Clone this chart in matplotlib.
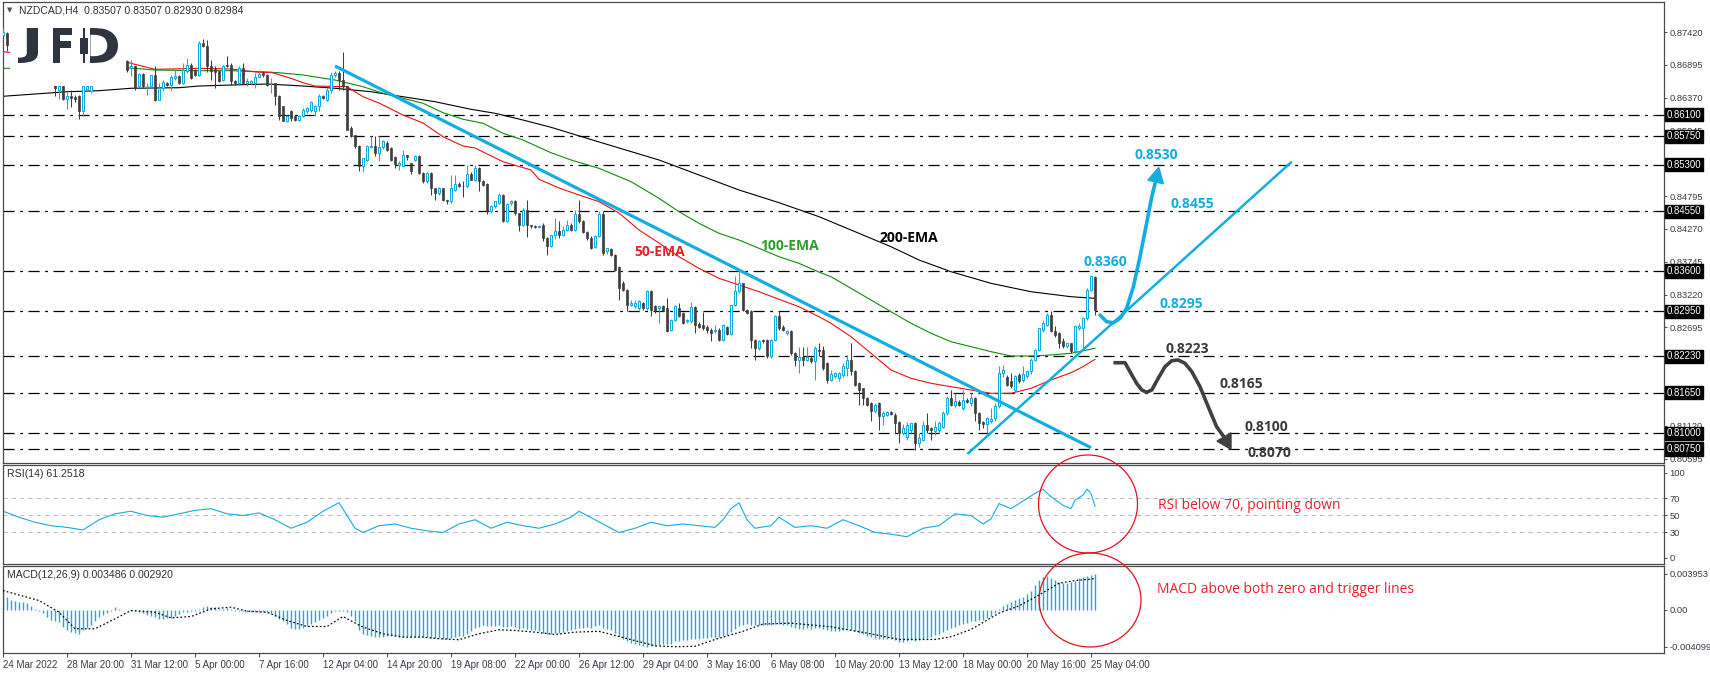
import numpy as np
import matplotlib
matplotlib.use("Agg")
import matplotlib.pyplot as plt
from matplotlib.patches import Ellipse, Polygon, Rectangle, PathPatch
from matplotlib.textpath import TextPath
from matplotlib.font_manager import FontProperties
from matplotlib.path import Path
import matplotlib.transforms as mtransforms

plt.rcParams['font.family'] = ['Liberation Sans', 'DejaVu Sans']
plt.rcParams['lines.scale_dashes'] = False

W, H, DPI = 1710, 674, 100

# ---------------- data ----------------
title_text = "NZDCAD,H4  0.83507 0.83507 0.82930 0.82984"
opens = [0.8738,0.8740,0.8721,0.8725,0.8719,0.8708,0.8712,0.8701,0.8692,0.8697,
         0.8684,0.8676,0.8670,0.8662,0.8650,0.8656,0.8635,0.8640,0.8638,0.8639,
         0.8615,0.8651,0.8648,0.8658,0.8665,0.8671,0.8677,0.8672,0.8683,0.8688,
         0.8682,0.8695,0.8684,0.8687,0.8655,0.8675,0.8655,0.8655,0.8673,0.8634,
         0.8652,0.8660,0.8657,0.8669,0.8672,0.8660,0.8679,0.8689,0.8681,0.8673,
         0.8724,0.8719,0.8688,0.8683,0.8679,0.8665,0.8689,0.8689,0.8664,0.8660,
         0.8685,0.8660,0.8660,0.8660,0.8670,0.8677,0.8673,0.8660,0.8660,0.8640,
         0.8623,0.8600,0.8616,0.8607,0.8601,0.8608,0.8615,0.8617,0.8615,0.8623,
         0.8640,0.8634,0.8650,0.8673,0.8677,0.8665,0.8655,0.8588,0.8577,0.8560,
         0.8528,0.8538,0.8558,0.8560,0.8549,0.8558,0.8564,0.8556,0.8542,0.8530,
         0.8528,0.8545,0.8532,0.8538,0.8544,0.8517,0.8503,0.8517,0.8492,0.8484,
         0.8492,0.8473,0.8471,0.8490,0.8499,0.8496,0.8495,0.8515,0.8506,0.8524,
         0.8504,0.8499,0.8455,0.8463,0.8469,0.8481,0.8440,0.8468,0.8472,0.8452,
         0.8433,0.8458,0.8433,0.8432,0.8430,0.8434,0.8413,0.8400,0.8417,0.8423,
         0.8418,0.8426,0.8433,0.8426,0.8451,0.8439,0.8422,0.8413,0.8398,0.8416,
         0.8451,0.8391,0.8395,0.8386,0.8366,0.8341,0.8329,0.8306,0.8303,0.8300,
         0.8308,0.8300,0.8327,0.8303,0.8300,0.8303,0.8300,0.8265,0.8282,0.8300,
         0.8292,0.8279,0.8279,0.8302,0.8275,0.8273,0.8270,0.8265,0.8263,0.8266,
         0.8249,0.8270,0.8259,0.8305,0.8327,0.8340,0.8297,0.8295,0.8250,0.8236,
         0.8249,0.8249,0.8223,0.8249,0.8287,0.8270,0.8260,0.8263,0.8228,0.8217,
         0.8222,0.8218,0.8220,0.8215,0.8234,0.8233,0.8212,0.8186,0.8192,0.8188,
         0.8194,0.8204,0.8218,0.8200,0.8180,0.8172,0.8156,0.8148,0.8135,0.8148,
         0.8127,0.8130,0.8134,0.8130,0.8118,0.8100,0.8095,0.8105,0.8116,0.8084,
         0.8090,0.8113,0.8108,0.8104,0.8105,0.8111,0.8132,0.8156,0.8145,0.8150,
         0.8140,0.8153,0.8148,0.8156,0.8132,0.8118,0.8115,0.8120,0.8124,0.8143,
         0.8196,0.8190,0.8183,0.8169,0.8193,0.8185,0.8191,0.8199,0.8217,0.8233,
         0.8265,0.8274,0.8289,0.8263,0.8260,0.8247,0.8239,0.8244,0.8231,0.8268,
         0.8268,0.8284,0.8330,0.8350]
highs = [0.8748,0.8742,0.8728,0.8730,0.8722,0.8715,0.8716,0.8705,0.8700,0.8699,
         0.8690,0.8682,0.8674,0.8666,0.8660,0.8660,0.8646,0.8649,0.8641,0.8641,
         0.8662,0.8665,0.8668,0.8668,0.8674,0.8680,0.8679,0.8685,0.8691,0.8690,
         0.8697,0.8697,0.8698,0.8688,0.8676,0.8676,0.8660,0.8674,0.8687,0.8660,
         0.8665,0.8662,0.8673,0.8681,0.8673,0.8692,0.8700,0.8693,0.8683,0.8727,
         0.8731,0.8729,0.8697,0.8687,0.8680,0.8690,0.8704,0.8692,0.8665,0.8688,
         0.8692,0.8668,0.8665,0.8676,0.8682,0.8680,0.8675,0.8668,0.8661,0.8641,
         0.8624,0.8609,0.8618,0.8609,0.8610,0.8620,0.8622,0.8632,0.8625,0.8643,
         0.8642,0.8652,0.8678,0.8680,0.8679,0.8710,0.8656,0.8592,0.8578,0.8562,
         0.8541,0.8561,0.8575,0.8575,0.8575,0.8570,0.8567,0.8558,0.8544,0.8535,
         0.8553,0.8546,0.8533,0.8545,0.8545,0.8518,0.8518,0.8518,0.8493,0.8494,
         0.8493,0.8474,0.8513,0.8513,0.8502,0.8504,0.8529,0.8518,0.8529,0.8526,
         0.8505,0.8500,0.8466,0.8472,0.8484,0.8483,0.8468,0.8474,0.8473,0.8453,
         0.8460,0.8474,0.8434,0.8433,0.8434,0.8436,0.8414,0.8418,0.8444,0.8439,
         0.8432,0.8441,0.8437,0.8457,0.8474,0.8441,0.8424,0.8415,0.8417,0.8455,
         0.8455,0.8397,0.8397,0.8387,0.8368,0.8343,0.8331,0.8313,0.8313,0.8313,
         0.8310,0.8329,0.8329,0.8305,0.8304,0.8306,0.8317,0.8283,0.8305,0.8308,
         0.8294,0.8283,0.8310,0.8304,0.8278,0.8294,0.8273,0.8268,0.8273,0.8268,
         0.8275,0.8272,0.8306,0.8351,0.8361,0.8341,0.8299,0.8298,0.8251,0.8250,
         0.8251,0.8251,0.8251,0.8290,0.8295,0.8273,0.8265,0.8265,0.8230,0.8238,
         0.8238,0.8238,0.8223,0.8239,0.8244,0.8239,0.8214,0.8201,0.8198,0.8198,
         0.8212,0.8225,0.8244,0.8201,0.8182,0.8173,0.8158,0.8150,0.8148,0.8150,
         0.8135,0.8135,0.8136,0.8132,0.8120,0.8115,0.8118,0.8116,0.8118,0.8100,
         0.8119,0.8132,0.8111,0.8119,0.8119,0.8135,0.8160,0.8169,0.8164,0.8153,
         0.8169,0.8156,0.8164,0.8158,0.8134,0.8120,0.8126,0.8141,0.8148,0.8207,
         0.8210,0.8193,0.8196,0.8194,0.8196,0.8207,0.8201,0.8220,0.8235,0.8269,
         0.8281,0.8292,0.8295,0.8271,0.8262,0.8252,0.8243,0.8245,0.8273,0.8276,
         0.8286,0.8333,0.8351,0.8351]
lows = [0.8735,0.8712,0.8712,0.8716,0.8705,0.8700,0.8698,0.8688,0.8686,0.8680,
        0.8672,0.8666,0.8660,0.8640,0.8635,0.8633,0.8619,0.8622,0.8630,0.8603,
        0.8607,0.8648,0.8645,0.8658,0.8661,0.8666,0.8668,0.8670,0.8678,0.8679,
        0.8680,0.8678,0.8671,0.8650,0.8653,0.8652,0.8641,0.8653,0.8631,0.8633,
        0.8648,0.8655,0.8649,0.8666,0.8659,0.8659,0.8676,0.8667,0.8671,0.8672,
        0.8718,0.8678,0.8665,0.8652,0.8662,0.8664,0.8686,0.8658,0.8658,0.8659,
        0.8659,0.8655,0.8658,0.8652,0.8668,0.8670,0.8656,0.8644,0.8625,0.8601,
        0.8599,0.8598,0.8600,0.8600,0.8599,0.8606,0.8612,0.8614,0.8608,0.8615,
        0.8635,0.8632,0.8645,0.8670,0.8649,0.8649,0.8585,0.8574,0.8557,0.8520,
        0.8518,0.8536,0.8556,0.8543,0.8536,0.8555,0.8552,0.8536,0.8524,0.8522,
        0.8527,0.8538,0.8515,0.8536,0.8515,0.8500,0.8500,0.8481,0.8474,0.8482,
        0.8472,0.8467,0.8469,0.8487,0.8494,0.8478,0.8493,0.8505,0.8504,0.8487,
        0.8496,0.8451,0.8453,0.8461,0.8467,0.8438,0.8438,0.8466,0.8450,0.8424,
        0.8431,0.8414,0.8429,0.8429,0.8428,0.8407,0.8385,0.8398,0.8411,0.8412,
        0.8415,0.8424,0.8424,0.8424,0.8437,0.8420,0.8410,0.8395,0.8396,0.8414,
        0.8386,0.8387,0.8384,0.8360,0.8313,0.8328,0.8295,0.8303,0.8300,0.8298,
        0.8298,0.8298,0.8287,0.8292,0.8276,0.8296,0.8262,0.8263,0.8280,0.8286,
        0.8275,0.8276,0.8277,0.8260,0.8268,0.8266,0.8260,0.8247,0.8260,0.8247,
        0.8247,0.8258,0.8257,0.8303,0.8325,0.8296,0.8291,0.8236,0.8217,0.8234,
        0.8245,0.8220,0.8221,0.8247,0.8266,0.8263,0.8258,0.8226,0.8207,0.8196,
        0.8207,0.8215,0.8212,0.8185,0.8223,0.8201,0.8180,0.8183,0.8189,0.8183,
        0.8190,0.8191,0.8193,0.8175,0.8145,0.8145,0.8143,0.8119,0.8133,0.8105,
        0.8113,0.8127,0.8130,0.8100,0.8084,0.8098,0.8090,0.8100,0.8073,0.8078,
        0.8088,0.8100,0.8090,0.8098,0.8100,0.8108,0.8130,0.8143,0.8141,0.8143,
        0.8137,0.8148,0.8143,0.8119,0.8105,0.8108,0.8100,0.8116,0.8120,0.8140,
        0.8190,0.8175,0.8172,0.8164,0.8180,0.8182,0.8188,0.8195,0.8215,0.8231,
        0.8262,0.8272,0.8262,0.8254,0.8236,0.8236,0.8236,0.8228,0.8229,0.8265,
        0.8233,0.8282,0.8328,0.8290]
closes = [0.8742,0.8721,0.8725,0.8719,0.8708,0.8712,0.8701,0.8692,0.8697,0.8684,
          0.8676,0.8670,0.8663,0.8652,0.8656,0.8635,0.8640,0.8637,0.8635,0.8615,
          0.8656,0.8656,0.8656,0.8665,0.8671,0.8677,0.8672,0.8683,0.8688,0.8682,
          0.8694,0.8681,0.8687,0.8652,0.8675,0.8655,0.8656,0.8673,0.8634,0.8652,
          0.8662,0.8657,0.8670,0.8672,0.8660,0.8681,0.8689,0.8668,0.8673,0.8724,
          0.8719,0.8688,0.8679,0.8678,0.8664,0.8688,0.8687,0.8663,0.8660,0.8685,
          0.8660,0.8663,0.8663,0.8670,0.8675,0.8673,0.8657,0.8661,0.8639,0.8607,
          0.8600,0.8608,0.8605,0.8601,0.8608,0.8617,0.8620,0.8630,0.8623,0.8639,
          0.8636,0.8650,0.8674,0.8676,0.8666,0.8655,0.8586,0.8576,0.8559,0.8528,
          0.8540,0.8559,0.8560,0.8549,0.8558,0.8567,0.8554,0.8538,0.8531,0.8532,
          0.8545,0.8542,0.8519,0.8544,0.8517,0.8503,0.8517,0.8492,0.8484,0.8492,
          0.8473,0.8471,0.8492,0.8499,0.8496,0.8495,0.8515,0.8506,0.8524,0.8503,
          0.8497,0.8455,0.8464,0.8471,0.8481,0.8440,0.8467,0.8471,0.8452,0.8434,
          0.8458,0.8433,0.8431,0.8430,0.8432,0.8412,0.8399,0.8417,0.8423,0.8418,
          0.8426,0.8433,0.8425,0.8451,0.8439,0.8422,0.8412,0.8397,0.8416,0.8451,
          0.8388,0.8396,0.8386,0.8361,0.8332,0.8329,0.8305,0.8308,0.8309,0.8311,
          0.8300,0.8327,0.8297,0.8298,0.8303,0.8298,0.8263,0.8282,0.8303,0.8287,
          0.8276,0.8281,0.8302,0.8273,0.8270,0.8268,0.8266,0.8260,0.8266,0.8249,
          0.8273,0.8259,0.8305,0.8327,0.8340,0.8298,0.8292,0.8250,0.8236,0.8247,
          0.8247,0.8223,0.8249,0.8287,0.8268,0.8265,0.8263,0.8228,0.8217,0.8222,
          0.8218,0.8222,0.8215,0.8236,0.8231,0.8204,0.8186,0.8195,0.8196,0.8196,
          0.8208,0.8218,0.8199,0.8177,0.8169,0.8156,0.8145,0.8135,0.8145,0.8127,
          0.8133,0.8134,0.8131,0.8116,0.8100,0.8108,0.8113,0.8116,0.8084,0.8092,
          0.8113,0.8105,0.8105,0.8111,0.8116,0.8132,0.8156,0.8145,0.8151,0.8146,
          0.8153,0.8150,0.8156,0.8132,0.8116,0.8115,0.8124,0.8123,0.8143,0.8196,
          0.8201,0.8177,0.8175,0.8191,0.8183,0.8195,0.8199,0.8217,0.8233,0.8268,
          0.8276,0.8289,0.8263,0.8258,0.8244,0.8239,0.8244,0.8231,0.8271,0.8272,
          0.8284,0.8330,0.8351,0.8298]

ema50_bars = [0, 15, 31, 38, 49, 57, 64, 67, 72, 75, 78, 86, 90, 94, 100, 105, 110, 115, 118, 125,
              132, 134, 139, 144, 149, 154, 159, 164, 169, 174, 179, 184, 189, 194, 199, 204, 207,
              212, 217, 222, 227, 232, 237, 242, 247, 252, 257, 262, 267, 270, 273]
ema50_vals = [0.87105, 0.8700, 0.86935, 0.86823, 0.86839, 0.86828, 0.86775, 0.86775, 0.86679, 0.86609,
              0.86556, 0.86545, 0.86385, 0.86284, 0.86092, 0.85964, 0.85745, 0.85597, 0.85565, 0.85345,
              0.85213, 0.85064, 0.84925, 0.84813, 0.84706, 0.84525, 0.84253, 0.84045, 0.83826, 0.83640,
              0.83480, 0.83373, 0.83266, 0.83145, 0.83026, 0.82866, 0.82761, 0.82546, 0.82281, 0.82014,
              0.81881, 0.81801, 0.81747, 0.81694, 0.81641, 0.81641, 0.81721, 0.81854, 0.81970, 0.82067,
              0.82185]
ema100_bars = [0, 31, 38, 49, 57, 64, 69, 75, 83, 90, 95, 100, 105, 110, 115, 120, 125, 130, 137, 142,
               149, 157, 164, 169, 174, 179, 184, 189, 194, 199, 204, 207, 212, 217, 222, 227, 232, 237,
               242, 247, 252, 257, 262, 267, 273]
ema100_vals = [0.86839, 0.86849, 0.86812, 0.86801, 0.86801, 0.86785, 0.86769, 0.86732, 0.86652, 0.86545,
               0.86440, 0.86360, 0.86280, 0.86129, 0.86024, 0.85960, 0.85800, 0.85693, 0.85489, 0.85373,
               0.85240, 0.85026, 0.84760, 0.84546, 0.84360, 0.84200, 0.84093, 0.83960, 0.83826, 0.83720,
               0.83580, 0.83506, 0.83320, 0.83133, 0.82946, 0.82761, 0.82601, 0.82466, 0.82387, 0.82307,
               0.82238, 0.82238, 0.82254, 0.82281, 0.82361]
ema200_bars = [0, 8, 16, 24, 32, 44, 49, 57, 66, 75, 83, 92, 100, 108, 117, 123, 130, 137, 149, 164,
               174, 184, 194, 204, 212, 222, 229, 237, 247, 257, 267, 273]
ema200_vals = [0.86392, 0.86428, 0.86465, 0.86481, 0.86520, 0.86529, 0.86556, 0.86572, 0.86588, 0.86556,
               0.86520, 0.86465, 0.86385, 0.86305, 0.86184, 0.86120, 0.86012, 0.85896, 0.85661, 0.85373,
               0.85133, 0.84893, 0.84690, 0.84466, 0.84253, 0.83986, 0.83773, 0.83586, 0.83400, 0.83266,
               0.83186, 0.83160]

level_prices = [0.8610, 0.8575, 0.8530, 0.8455, 0.8360, 0.8295, 0.8223, 0.8165, 0.8100, 0.8075]
level_box_labels = ["0.86100", "0.85750", "0.85300", "0.84550", "0.83600", "0.82950",
                    "0.82230", "0.81650", "0.81000", "0.80750"]
price_ticks = [0.87420, 0.86895, 0.86370, 0.85845, 0.85320, 0.84795, 0.84270,
               0.83745, 0.83220, 0.82695, 0.82170, 0.81645, 0.81120, 0.80595]

rsi_bars = [0, 4, 8, 12, 16, 20, 24, 28, 32, 36, 40, 44, 48, 52, 56, 60, 64, 68, 72, 76, 80, 84, 86,
            88, 90, 94, 98, 102, 106, 110, 114, 118, 122, 126, 130, 134, 138, 142, 144, 148, 150, 154,
            158, 162, 166, 170, 174, 178, 180, 182, 184, 186, 188, 192, 194, 198, 202, 206, 210, 214,
            218, 222, 226, 230, 234, 238, 242, 245, 247, 249, 252, 254, 256, 258, 260, 262, 265, 267,
            268, 270, 271, 272, 273]
rsi_vals = [55, 48, 42, 38, 36, 33, 45, 52, 55, 50, 48, 52, 56, 58, 52, 50, 53, 45, 35, 42, 55, 65, 50,
            35, 30, 38, 40, 35, 32, 30, 40, 45, 35, 42, 38, 35, 40, 48, 55, 45, 40, 30,
            35, 42, 38, 40, 38, 36, 45, 58, 65, 45, 35, 38, 48, 36, 38, 35, 45, 38,
            30, 28, 25, 35, 38, 52, 50, 40, 46, 64, 58, 64, 70, 76, 81, 72, 62, 58,
            68, 74, 81, 76, 61]
rsi_levels = [70, 50, 30]

macd_vals = [0.00190,0.00143,0.00106,0.00092,0.00088,0.00081,0.00070,0.00044,0.00007,-0.00011,
             -0.00040,-0.00084,-0.00110,-0.00121,-0.00139,-0.00187,-0.00223,-0.00249,-0.00262,-0.00275,
             -0.00231,-0.00201,-0.00165,-0.00121,-0.00077,-0.00055,-0.00040,-0.00018,0.00026,0.00005,
             0.00000,-0.00004,-0.00011,-0.00018,-0.00029,-0.00040,-0.00055,-0.00066,-0.00084,-0.00102,
             -0.00102,-0.00098,-0.00092,-0.00066,-0.00048,-0.00029,-0.00022,-0.00015,-0.00011,0.00007,
             0.00033,0.00044,0.00030,0.00026,0.00007,0.00007,0.00015,0.00005,-0.00011,-0.00015,
             -0.00018,-0.00029,-0.00029,-0.00029,-0.00029,-0.00029,-0.00029,-0.00040,-0.00066,-0.00100,
             -0.00121,-0.00157,-0.00201,-0.00212,-0.00212,-0.00201,-0.00176,-0.00160,-0.00139,-0.00113,
             -0.00092,-0.00066,-0.00040,-0.00020,-0.00011,-0.00011,-0.00029,-0.00066,-0.00121,-0.00231,
             -0.00267,-0.00285,-0.00295,-0.00304,-0.00304,-0.00300,-0.00295,-0.00290,-0.00295,-0.00300,
             -0.00300,-0.00295,-0.00300,-0.00298,-0.00300,-0.00305,-0.00300,-0.00310,-0.00315,-0.00312,
             -0.00320,-0.00325,-0.00310,-0.00300,-0.00295,-0.00290,-0.00270,-0.00240,-0.00205,-0.00190,
             -0.00175,-0.00180,-0.00185,-0.00180,-0.00175,-0.00195,-0.00190,-0.00185,-0.00195,-0.00210,
             -0.00205,-0.00215,-0.00225,-0.00230,-0.00235,-0.00255,-0.00275,-0.00270,-0.00262,-0.00255,
             -0.00245,-0.00235,-0.00228,-0.00210,-0.00205,-0.00200,-0.00195,-0.00200,-0.00180,-0.00168,
             -0.00200,-0.00215,-0.00230,-0.00255,-0.00297,-0.00320,-0.00350,-0.00365,-0.00380,-0.00395,
             -0.00405,-0.00410,-0.00405,-0.00400,-0.00390,-0.00380,-0.00385,-0.00375,-0.00350,-0.00345,
             -0.00340,-0.00335,-0.00320,-0.00325,-0.00320,-0.00315,-0.00310,-0.00305,-0.00300,-0.00300,
             -0.00290,-0.00280,-0.00250,-0.00215,-0.00180,-0.00165,-0.00160,-0.00165,-0.00175,-0.00170,
             -0.00168,-0.00175,-0.00170,-0.00160,-0.00162,-0.00170,-0.00175,-0.00190,-0.00205,-0.00210,
             -0.00210,-0.00208,-0.00210,-0.00200,-0.00205,-0.00215,-0.00230,-0.00235,-0.00235,-0.00232,
             -0.00225,-0.00218,-0.00225,-0.00240,-0.00255,-0.00270,-0.00290,-0.00305,-0.00310,-0.00325,
             -0.00330,-0.00330,-0.00330,-0.00340,-0.00355,-0.00355,-0.00350,-0.00340,-0.00350,-0.00340,
             -0.00325,-0.00310,-0.00300,-0.00285,-0.00270,-0.00250,-0.00225,-0.00205,-0.00190,-0.00175,
             -0.00160,-0.00145,-0.00130,-0.00125,-0.00120,-0.00110,-0.00090,-0.00070,-0.00040,0.00010,
             0.00037,0.00066,0.00084,0.00102,0.00128,0.00139,0.00168,0.00205,0.00267,0.00322,
             0.00359,0.00366,0.00351,0.00329,0.00304,0.00293,0.00293,0.00300,0.00320,0.00345,
             0.00360,0.00375,0.00380,0.00395]
signal_bars = [0, 9, 14, 18, 23, 28, 32, 38, 42, 47, 52, 57, 61, 66, 71, 76, 81, 85, 90, 95, 100, 105,
               109, 114, 119, 124, 128, 133, 138, 143, 149, 156, 163, 168, 173, 178, 185, 190, 197, 207,
               216, 224, 233, 237, 242, 249, 254, 259, 264, 268, 273]
signal_vals = [0.00209, 0.00099, -0.00029, -0.00212, -0.00212, -0.00102, -0.00011, -0.00029, -0.00092,
               -0.00077, 0.00007, 0.00026, -0.00018, -0.00029, -0.00121, -0.00187, -0.00187, -0.00077,
               -0.00194, -0.00267, -0.00304, -0.00304, -0.00322, -0.00333, -0.00267, -0.00223, -0.00231,
               -0.00249, -0.00275, -0.00249, -0.00240, -0.00320, -0.00400, -0.00410, -0.00405, -0.00330,
               -0.00240, -0.00160, -0.00150, -0.00190, -0.00260, -0.00330, -0.00330, -0.00300, -0.00220,
               -0.00040, 0.00040, 0.00160, 0.00290, 0.00320, 0.00340]

date_tick_bars = list(range(0, 273, 16))
date_labels = ["24 Mar 2022", "28 Mar 20:00", "31 Mar 12:00", "5 Apr 00:00", "7 Apr 16:00",
               "12 Apr 04:00", "14 Apr 20:00", "19 Apr 08:00", "22 Apr 00:00", "26 Apr 12:00",
               "29 Apr 04:00", "3 May 16:00", "6 May 08:00", "10 May 20:00", "13 May 12:00",
               "18 May 00:00", "20 May 16:00", "25 May 04:00"]

# trendlines / scenario drawings (bar index, price)
down_line_x = [83, 272]
down_line_y = [0.86876, 0.80771]
up_line_x = [241.1, 322.2]
up_line_y = [0.80670, 0.85346]
bull_path_x = [274.25, 275.9, 277.6, 279.25, 280.9, 282.6, 284.25, 285.9, 287.2, 288.1]
bull_path_y = [0.82893, 0.82786, 0.82770, 0.82840, 0.83000, 0.83347, 0.83827, 0.84360, 0.84787, 0.85021]
bull_head_x = [286.2, 290.1, 288.95]
bull_head_y = [0.85050, 0.84992, 0.85254]
bear_path_x = [277.6, 280.5, 281.75, 283.4, 284.7, 285.9, 287.2, 288.8, 290.5, 292.2, 293.8, 295.5,
               297.2, 299.25, 301.3, 303.4, 305.25]
bear_path_y = [0.82130, 0.82130, 0.81987, 0.81801, 0.81694, 0.81657, 0.81694, 0.81881, 0.82067, 0.82163,
               0.82174, 0.82121, 0.81987, 0.81747, 0.81427, 0.81107, 0.80942]
bear_head_x = [303.5, 307.0, 307.0]
bear_head_y = [0.80876, 0.81008, 0.80745]

bull_labels = ["0.8530", "0.8455", "0.8360", "0.8295"]
bull_label_x = [282.8, 291.9, 270.1, 289.1]
bull_label_y = [0.85453, 0.84669, 0.83736, 0.83069]
bear_labels = ["0.8223", "0.8165", "0.8100", "0.8070"]
bear_label_x = [290.7, 304.0, 310.3, 311.1]
bear_label_y = [0.82350, 0.81790, 0.81097, 0.80681]

# ---------------- styling ----------------
CYAN = '#14ade0'
DARK = '#3e3e3e'
RED_EMA = '#f01010'
GREEN_EMA = '#108a10'
TXT = '#3a3a48'
ANN_RED = '#e8202a'
BORDER = '#4a4a4a'
LOGO = '#2e3540'

fig = plt.figure(figsize=(W / DPI, H / DPI), dpi=DPI)
fig.patch.set_facecolor('white')


def fr(x0, y0, x1, y1):
    return [x0 / W, 1 - y1 / H, (x1 - x0) / W, (y1 - y0) / H]


LEFT, RIGHT = 2.7, 1664
ax = fig.add_axes(fr(LEFT, 2, RIGHT, 463))
ax_rsi = fig.add_axes(fr(LEFT, 465, RIGHT, 564))
ax_macd = fig.add_axes(fr(LEFT, 566, RIGHT, 653))

xlim = ((LEFT - 3) / 4, (RIGHT - 3) / 4)
for a in (ax, ax_rsi, ax_macd):
    a.set_xlim(*xlim)
    for s in a.spines.values():
        s.set_color(BORDER)
        s.set_linewidth(0.9)
    a.yaxis.tick_right()
    a.tick_params(axis='y', direction='out', length=2.5, width=0.7, color=BORDER,
                  labelsize=6.7, labelcolor=TXT, pad=1.5)
    a.tick_params(axis='x', bottom=False, labelbottom=False)

ax.set_ylim(0.8742 - 431 / 6252, 0.8742 + 30 / 6252)

# levels
for lp in level_prices:
    ax.axhline(lp, color='black', lw=0.9, dashes=(8, 4, 2, 4), zorder=1)

# EMAs
ax.plot(ema200_bars, ema200_vals, color='black', lw=0.8, zorder=2)
ax.plot(ema100_bars, ema100_vals, color=GREEN_EMA, lw=0.8, zorder=2)
ax.plot(ema50_bars, ema50_vals, color=RED_EMA, lw=0.8, zorder=2)

# candles
o = np.array(opens); h = np.array(highs); l = np.array(lows); c = np.array(closes)
idx = np.arange(len(c))
up = c >= o
ax.vlines(idx[up], l[up], h[up], color=CYAN, lw=0.75, zorder=3)
ax.vlines(idx[~up], l[~up], h[~up], color=DARK, lw=0.75, zorder=3)
bh = np.maximum(np.abs(c - o), 0.00004)
ax.bar(idx[up], bh[up], bottom=np.minimum(o, c)[up], width=0.5, facecolor='white',
       edgecolor=CYAN, linewidth=0.8, zorder=4)
ax.bar(idx[~up], bh[~up], bottom=np.minimum(o, c)[~up], width=0.62, facecolor=DARK,
       edgecolor=DARK, linewidth=0.5, zorder=4)

# trendlines
ax.plot(down_line_x, down_line_y, color=CYAN, lw=2.3, zorder=5, solid_capstyle='butt')
ax.plot(up_line_x, up_line_y, color=CYAN, lw=1.8, zorder=5, solid_capstyle='butt')

# scenario arrows
ax.plot(bull_path_x, bull_path_y, color=CYAN, lw=2.6, zorder=6, solid_capstyle='round')
ax.add_patch(Polygon(list(zip(bull_head_x, bull_head_y)), closed=True, color=CYAN, zorder=6))
ax.plot(bear_path_x, bear_path_y, color='#404040', lw=2.6, zorder=6, solid_capstyle='butt')
ax.add_patch(Polygon(list(zip(bear_head_x, bear_head_y)), closed=True, color='#404040', zorder=6))

bold = dict(family=['Open Sans', 'DejaVu Sans'], fontweight='bold', fontsize=10)
for t, x, y in zip(bull_labels, bull_label_x, bull_label_y):
    ax.text(x, y, t, color=CYAN, ha='left', va='center', zorder=7, **bold)
for t, x, y in zip(bear_labels, bear_label_x, bear_label_y):
    ax.text(x, y, t, color='#3a3a3a', ha='left', va='center', zorder=7, **bold)
ax.text(219.25, 0.84120, "200-EMA", color='black', ha='left', va='center', zorder=7, **bold)
ax.text(189.25, 0.83997, "100-EMA", color='#2f9c2f', ha='left', va='center', zorder=7, **bold)
ax.text(157.8, 0.83906, "50-EMA", color='#e8202a', ha='left', va='center', zorder=7, **bold)

# price axis
ax.set_yticks(price_ticks)
ax.set_yticklabels([f"{p:.5f}" for p in price_ticks])
btrans = mtransforms.blended_transform_factory(ax.transAxes, ax.transData)
for lp, lab in zip(level_prices, level_box_labels):
    ax.text(1.0016, lp, lab, transform=btrans, ha='left', va='center', fontsize=6.9,
            color='white', clip_on=False, zorder=10,
            bbox=dict(boxstyle='square,pad=0.18', fc='black', ec='black'))

# RSI
ax_rsi.set_ylim(-7.06, 109.4)
for lv in rsi_levels:
    ax_rsi.axhline(lv, color='#b8b8b8', lw=0.7, dashes=(3, 3), zorder=1)
ax_rsi.plot(rsi_bars, rsi_vals, color=CYAN, lw=0.8, zorder=2)
ax_rsi.set_yticks([100, 70, 50, 30, 0])
ax_rsi.set_yticklabels(["100", "70", "50", "30", "0"])

# MACD
ax_macd.set_ylim(-0.004791, 0.004799)
ax_macd.vlines(idx, 0, macd_vals, color=CYAN, lw=1.0, zorder=2)
ax_macd.plot(signal_bars, signal_vals, color='black', lw=0.9, dashes=(1.2, 1.6), zorder=3)
ax_macd.set_yticks([0.003953, 0.0, -0.004099])
ax_macd.set_yticklabels(["0.003953", "0.00", "-0.004099"])
ax_macd.set_xticks(date_tick_bars)
ax_macd.set_xticklabels(date_labels, ha='left')
ax_macd.tick_params(axis='x', bottom=True, labelbottom=True, direction='out', length=3,
                    width=0.7, color=BORDER, labelsize=7, labelcolor=TXT, pad=2)

# titles
fig.text(7 / W, 1 - 10.5 / H, "\u25BC", fontsize=5, color='#505050', va='center', ha='left',
         family=['DejaVu Sans'])
fig.text(19 / W, 1 - 10.5 / H, title_text, fontsize=7.5, color='#303030', va='center', ha='left')
fig.text(7 / W, 1 - 474 / H, "RSI(14) 61.2518", fontsize=7.6, color='#303030', va='center', ha='left')
fig.text(7 / W, 1 - 575 / H, "MACD(12,26,9) 0.003486 0.002920", fontsize=7.6, color='#303030',
         va='center', ha='left')

# logo (white backing box + letter shapes)
fig.patches.append(Rectangle((10 / W, 1 - 86 / H), 116 / W, 68 / H, transform=fig.transFigure,
                             facecolor='white', edgecolor='none', zorder=1))
logo_font = FontProperties(family='DejaVu Sans', weight='bold')


def logo_letter(ch, x0, x1, y0, y1):
    tp = TextPath((0, 0), ch, size=100, prop=logo_font)
    bb = tp.get_extents()
    v = tp.vertices.copy()
    px = x0 + (v[:, 0] - bb.x0) / bb.width * (x1 - x0)
    py = y1 - (v[:, 1] - bb.y0) / bb.height * (y1 - y0)
    v[:, 0] = px / W
    v[:, 1] = 1 - py / H
    fig.patches.append(PathPatch(Path(v, tp.codes), transform=fig.transFigure, fc=LOGO,
                                 ec='none', zorder=2))


logo_letter("J", 18, 38, 28, 63)
logo_letter("F", 53, 72, 28, 63)
logo_letter("D", 80, 118, 28, 63)
# candle-shaped stem of the D
fig.patches.append(Rectangle((78 / W, 1 - 64 / H), 11.5 / W, 37 / H, transform=fig.transFigure,
                             facecolor='white', edgecolor='none', zorder=3))
fig.patches.append(Rectangle((82.6 / W, 1 - 63 / H), 2.4 / W, 35 / H, transform=fig.transFigure,
                             facecolor=LOGO, edgecolor='none', zorder=4))
fig.patches.append(Rectangle((80 / W, 1 - 54 / H), 7.5 / W, 16 / H, transform=fig.transFigure,
                             facecolor=LOGO, edgecolor='none', zorder=4))

# annotations in sub panels
fig.text(1158 / W, 1 - 505.7 / H, "RSI below 70, pointing down", fontsize=10, color=ANN_RED,
         va='center', ha='left', family=['Open Sans', 'DejaVu Sans'])
fig.text(1157 / W, 1 - 589.5 / H, "MACD above both zero and trigger lines", fontsize=10,
         color=ANN_RED, va='center', ha='left', family=['Open Sans', 'DejaVu Sans'])
fig.patches.append(Ellipse((1088 / W, 1 - 504 / H), 99 / W, 98 / H, transform=fig.transFigure,
                           facecolor='none', edgecolor='#e8101e', lw=0.9, zorder=5))
fig.patches.append(Ellipse((1090 / W, 1 - 600 / H), 102 / W, 94 / H, transform=fig.transFigure,
                           facecolor='none', edgecolor='#e8101e', lw=0.9, zorder=5))

fig.savefig("out.png", dpi=DPI)
